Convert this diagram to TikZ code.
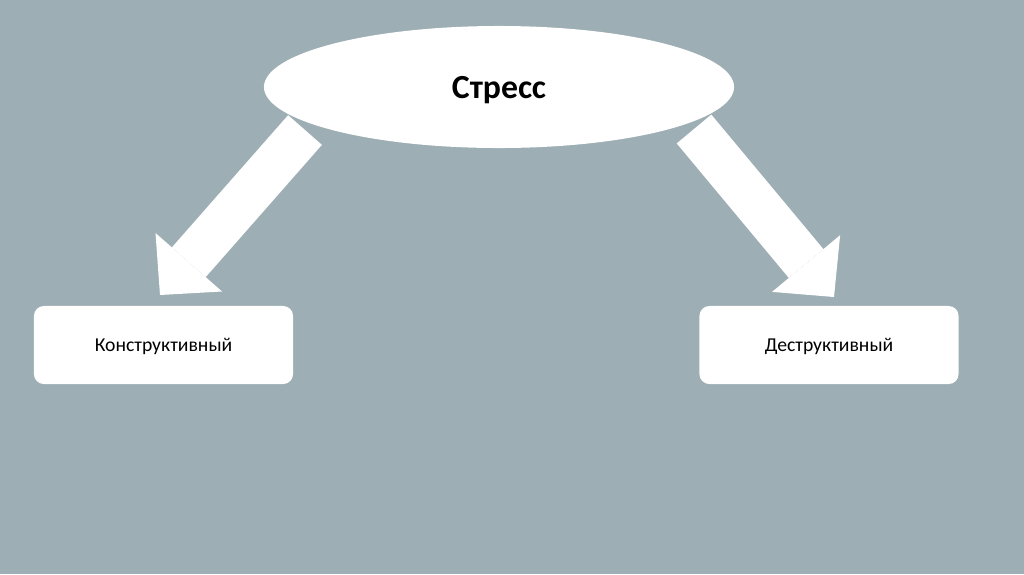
\documentclass[tikz,border=0pt]{standalone}
\usepackage{fontspec}
\setmainfont{Carlito}
\usetikzlibrary{shapes.geometric,arrows.meta,positioning}
\definecolor{slidebg}{RGB}{157,174,180}

\begin{document}
\begin{tikzpicture}[x=0.025cm, y=-0.025cm]
    \tikzstyle{oval} = [ellipse, fill=white, minimum width=11.75cm, minimum height=3.05cm, inner sep=0pt, text depth=0pt, font=\fontsize{24}{28}\selectfont\bfseries]
    \tikzstyle{kind} = [rectangle, rounded corners=7pt, fill=white, minimum width=6.475cm, minimum height=1.95cm, text depth=0pt, font=\fontsize{14}{17}\selectfont]
    \tikzstyle{arr} = [line width=32pt, draw=white, -{Triangle[length=31pt, width=63pt, line width=0pt]}]

    \fill [slidebg] (0,0) rectangle (1024,574);

    % block arrows, tails hidden under the ellipse
    \coordinate (ltail) at (305,130);
    \coordinate (ltip) at (160,295);
    \coordinate (rtail) at (694,129);
    \coordinate (rtip) at (834,297);
    \draw [arr] (ltail) -- (ltip);
    \draw [arr] (rtail) -- (rtip);

    \node [oval] (stress) at (499,87) {Стресс};
    \node [kind] (constr) at (163.5,345) {Конструктивный};
    \node [kind] (destr) at (829,345) {Деструктивный};
\end{tikzpicture}
\end{document}
